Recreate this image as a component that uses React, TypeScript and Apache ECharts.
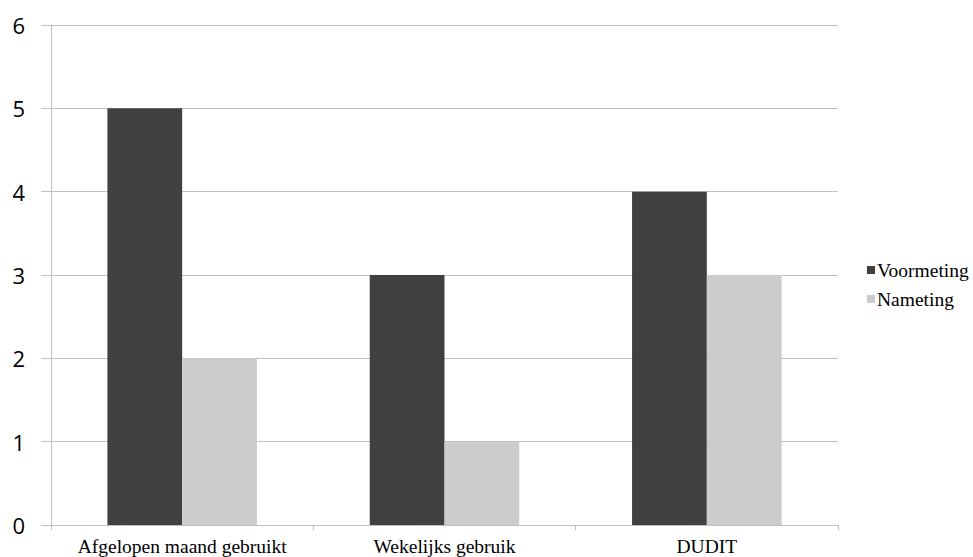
import React, { useEffect, useRef } from "react";
import * as echarts from "echarts";

const categories = ["Afgelopen maand gebruikt", "Wekelijks gebruik", "DUDIT"];
const voormeting = [5, 3, 4];
const nameting = [2, 1, 3];
const seriesNames = ["Voormeting", "Nameting"];

export default function App() {
  const ref = useRef<HTMLDivElement>(null);

  useEffect(() => {
    if (!ref.current) return;
    const chart = echarts.init(ref.current, null, { renderer: "svg" });
    const gridColor = "#bfbfbf";
    chart.setOption({
      animation: false,
      backgroundColor: "#ffffff",
      grid: { left: 51, right: 135, top: 25, bottom: 32, containLabel: false },
      legend: {
        orient: "vertical",
        left: 862,
        top: 255,
        itemWidth: 8,
        itemHeight: 8,
        itemGap: 9,
        icon: "rect",
        data: seriesNames,
        textStyle: {
          fontFamily: "Liberation Serif",
          fontSize: 19.5,
          color: "#000000",
          padding: [0, 0, 0, -3],
        },
      },
      xAxis: {
        type: "category",
        data: categories,
        boundaryGap: true,
        axisLine: { show: true, lineStyle: { color: gridColor, width: 1 } },
        axisTick: { show: true, length: 5, interval: 0, lineStyle: { color: gridColor } },
        axisLabel: {
          interval: 0,
          margin: 11,
          fontFamily: "Liberation Serif",
          fontSize: 19.5,
          color: "#000000",
        },
      },
      yAxis: {
        type: "value",
        min: 0,
        max: 6,
        interval: 1,
        axisLine: { show: true, lineStyle: { color: gridColor, width: 1 } },
        axisTick: { show: true, length: 10, lineStyle: { color: gridColor } },
        splitLine: { show: true, lineStyle: { color: gridColor, width: 1 } },
        axisLabel: {
          margin: 26,
          fontFamily: "Open Sans",
          fontSize: 22,
          color: "#000000",
          padding: [4, 0, 0, 0],
        },
      },
      series: [
        {
          name: seriesNames[0],
          type: "bar",
          data: voormeting,
          barGap: "0%",
          barCategoryGap: "43%",
          itemStyle: { color: "#404040" },
        },
        {
          name: seriesNames[1],
          type: "bar",
          data: nameting,
          barGap: "0%",
          barCategoryGap: "43%",
          itemStyle: { color: "#cccccc" },
        },
      ],
    });
    return () => chart.dispose();
  }, []);

  return (
    <div
      ref={ref}
      style={{ position: "absolute", left: 0, top: 0, width: 973, height: 557 }}
    />
  );
}
